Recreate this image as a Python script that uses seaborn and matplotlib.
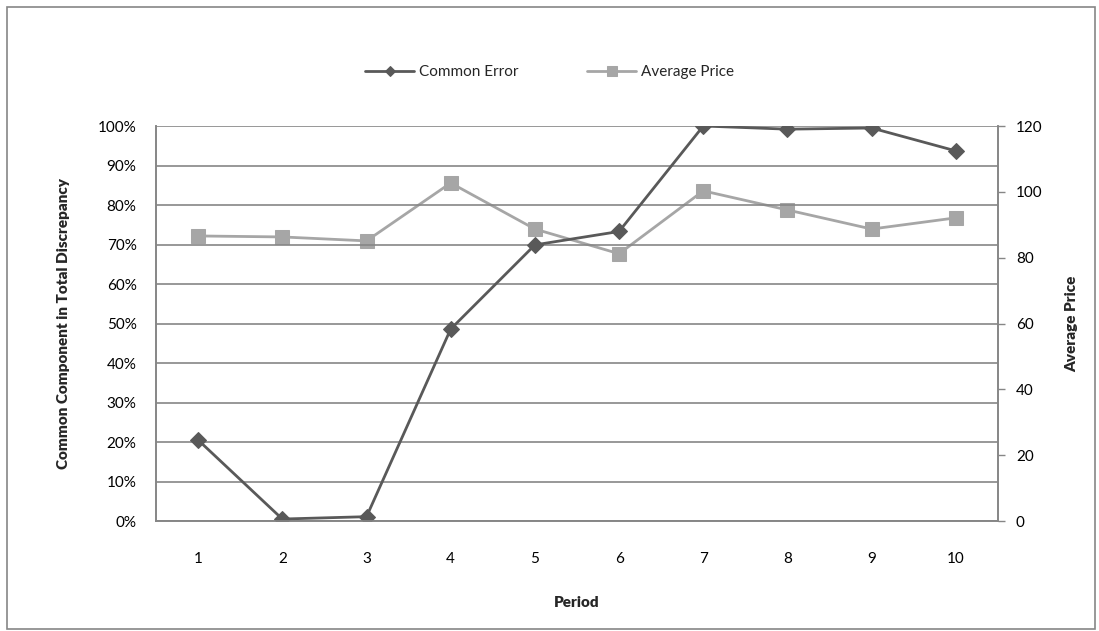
import pandas as pd
import matplotlib.pyplot as plt
import matplotlib.ticker as mticker
import seaborn as sns

periods = [1, 2, 3, 4, 5, 6, 7, 8, 9, 10]
common_error = [0.205, 0.005, 0.011, 0.486, 0.699, 0.733, 1.000, 0.992, 0.995, 0.937]
average_price = [86.6, 86.3, 85.1, 102.7, 88.7, 81.2, 100.3, 94.5, 88.7, 92.1]

dark = "#595959"
light = "#A6A6A6"
grid_col = "#868686"

sns.set_style("white")
plt.rcParams["font.family"] = ["Lato", "DejaVu Sans"]

df = pd.DataFrame({"Period": periods, "Common Error": common_error, "Average Price": average_price})

fig = plt.figure(figsize=(10.99, 6.31), dpi=100)
ax = fig.add_axes([0.142, 0.1743, 0.766, 0.626])
ax2 = ax.twinx()

sns.lineplot(data=df, x="Period", y="Common Error", ax=ax, color=dark, linewidth=2,
             marker="D", markersize=8, markeredgecolor=dark, label="Common Error", legend=False)
sns.lineplot(data=df, x="Period", y="Average Price", ax=ax2, color=light, linewidth=2,
             marker="s", markersize=10, markeredgecolor=light, label="Average Price", legend=False)
ax.set_zorder(ax2.get_zorder() + 1)
ax.patch.set_visible(False)

ax.set_xlim(0.5, 10.5)
ax.set_ylim(0, 1)
ax2.set_ylim(0, 120)
ax.set_xticks(periods)
ax.set_yticks([i / 10 for i in range(11)])
ax2.set_yticks(range(0, 121, 20))
ax.yaxis.set_major_formatter(mticker.PercentFormatter(1.0, decimals=0))
ax.grid(axis="y", color=grid_col, linewidth=1.2)
ax.grid(axis="x", visible=False)

for a in (ax, ax2):
    for s in a.spines.values():
        s.set_color(grid_col)
        s.set_linewidth(1.2)
    a.spines["top"].set_visible(False)

ax.tick_params(axis="x", length=0, pad=22, labelsize=11, colors="black")
ax.tick_params(axis="y", length=0, pad=14, labelsize=11, colors="black")
ax2.tick_params(axis="y", length=5, width=1, pad=8, labelsize=11, colors="black")
ax2.tick_params(axis="y", color=grid_col)

ax.set_xlabel("Period", fontsize=11, fontweight="heavy", labelpad=22)
ax.set_ylabel("Common Component in Total Discrepancy", fontsize=11, fontweight="heavy", labelpad=20)
ax2.set_ylabel("Average Price", fontsize=11, fontweight="heavy", labelpad=16)

h1, l1 = ax.get_legend_handles_labels()
h2, l2 = ax2.get_legend_handles_labels()
fig.legend(h1 + h2, l1 + l2, loc="center", bbox_to_anchor=(0.5, 0.886), ncol=2,
           frameon=False, fontsize=11, handlelength=3.2, handletextpad=0.3,
           columnspacing=4.5, markerscale=0.7)

border = plt.Rectangle((0.006, 0.003), 0.99, 0.986, transform=fig.transFigure,
                       fill=False, edgecolor=grid_col, linewidth=1.2)
fig.patches.append(border)

fig.savefig("out.png", dpi=100)
